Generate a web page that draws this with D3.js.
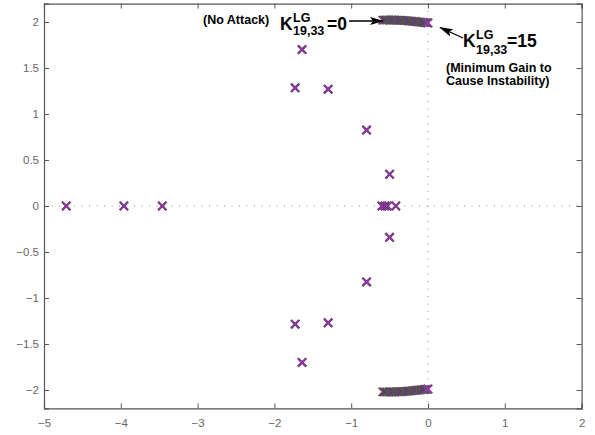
<!DOCTYPE html>
<html><head><meta charset="utf-8">
<script src="https://cdn.jsdelivr.net/npm/d3@7"></script>
<style>
html,body{margin:0;padding:0;background:#fff;}
svg{display:block;font-family:"Liberation Sans",Arial,Helvetica,sans-serif;}
</style></head>
<body><svg id="c" width="595" height="435"></svg>
<script>
// ---- data ----
const xTicks = [-5,-4,-3,-2,-1,0,1,2];
const yTicks = [-2,-1.5,-1,-0.5,0,0.5,1,1.5,2];
// open-loop poles (no attack)
const poleRe = [-4.71,-3.96,-3.46,-1.73,-1.73,-1.30,-1.30,-1.64,-1.64,-0.80,-0.80,-0.50,-0.50,-0.60,-0.56,-0.53,-0.42];
const poleIm = [0,0,0,1.285,-1.285,1.27,-1.27,1.70,-1.70,0.825,-0.825,0.345,-0.34,0,0,0,0];
// root-locus trajectory of the dominant pair (K = 0 ... 15, fine steps)
const trajRe = [-0.59,-0.57,-0.55,-0.53,-0.51,-0.49,-0.47,-0.45,-0.43,-0.41,-0.39,-0.37,-0.35,-0.33,-0.31,-0.29,-0.27,-0.25,-0.23,-0.21,-0.19,-0.17,-0.15,-0.13,-0.11,-0.09,-0.07,-0.05,-0.03,-0.015,0.0];
const trajIm = [2.02,2.021,2.021,2.022,2.022,2.022,2.022,2.021,2.021,2.02,2.02,2.019,2.018,2.017,2.016,2.015,2.013,2.012,2.01,2.009,2.007,2.005,2.003,2.001,2.0,1.998,1.996,1.994,1.992,1.991,1.99];
const trajColors = ["#5a5050","#7a3e4e","#3e4580","#6a4a6a","#4a5a4a"];

const svg = d3.select("#c");
const L = 44, R = 581.6, T = 3.6, B = 408.4;
const x = d3.scaleLinear().domain([-5,2]).range([L,R]);
const y = d3.scaleLinear().domain([-2.2,2.2]).range([B,T]);
const axisCol = "#555", labCol = "#666";

// dotted zero lines
svg.append("line").attr("x1",L).attr("x2",R).attr("y1",y(0)).attr("y2",y(0))
  .attr("stroke","#8a8a8a").attr("stroke-width",1).attr("stroke-dasharray","1,6.5");
svg.append("line").attr("x1",x(0)).attr("x2",x(0)).attr("y1",T).attr("y2",B)
  .attr("stroke","#8a8a8a").attr("stroke-width",1).attr("stroke-dasharray","1,6.5");

// axes (inward ticks on all sides)
const gB = svg.append("g").attr("transform",`translate(0,${B})`)
  .call(d3.axisBottom(x).tickValues(xTicks).tickSize(-5).tickPadding(10).tickFormat(d=>d3.format("")(d).replace("-","\u2212")));
const gT = svg.append("g").attr("transform",`translate(0,${T})`)
  .call(d3.axisTop(x).tickValues(xTicks).tickSize(-5).tickFormat(""));
const gL = svg.append("g").attr("transform",`translate(${L},0)`)
  .call(d3.axisLeft(y).tickValues(yTicks).tickSize(-5).tickPadding(5).tickFormat(d=>String(d).replace("-","\u2212")));
const gR = svg.append("g").attr("transform",`translate(${R},0)`)
  .call(d3.axisRight(y).tickValues(yTicks).tickSize(-5).tickFormat(""));
[gB,gT,gL,gR].forEach(g=>{
  g.select(".domain").attr("stroke",axisCol).attr("stroke-width",1.2);
  g.selectAll(".tick line").attr("stroke",axisCol).attr("stroke-width",1);
  g.selectAll(".tick text").attr("fill",labCol).style("font-size","11.5px").style("font-family","'Liberation Sans',Arial,sans-serif");
});

function cross(g, cx, cy, h, col, w){
  g.append("path").attr("d",`M${cx-h},${cy-h}L${cx+h},${cy+h}M${cx-h},${cy+h}L${cx+h},${cy-h}`)
   .attr("stroke",col).attr("stroke-width",w).attr("fill","none");
}

// trajectories (upper and mirrored lower)
const gt = svg.append("g");
[1,-1].forEach(s=>{
  trajRe.forEach((re,i)=>{
    cross(gt, x(re), y(s*trajIm[i]), 4.2, trajColors[i%trajColors.length], 1.5);
  });
  const last = trajRe.length-1;
  cross(gt, x(trajRe[last]), y(s*trajIm[last]), 4.2, "#a030b8", 1.6);
});

// poles
const gp = svg.append("g");
poleRe.forEach((re,i)=>{
  cross(gp, x(re), y(poleIm[i]), 4.2, "#4a3a4a", 2.3);
  cross(gp, x(re), y(poleIm[i]), 3.9, "#a030b8", 1.3);
});

// arrows
svg.append("defs").append("marker").attr("id","ah").attr("viewBox","0 0 14 8")
  .attr("refX",13).attr("refY",4).attr("markerWidth",14).attr("markerHeight",8)
  .attr("markerUnits","userSpaceOnUse").attr("orient","auto")
  .append("path").attr("d","M0,0L14,4L0,8L3,4Z").attr("fill","#000");
svg.append("line").attr("x1",349).attr("y1",21).attr("x2",383).attr("y2",21)
  .attr("stroke","#000").attr("stroke-width",1.3).attr("marker-end","url(#ah)");
svg.append("line").attr("x1",463).attr("y1",38).attr("x2",440).attr("y2",27.5)
  .attr("stroke","#000").attr("stroke-width",1.3).attr("marker-end","url(#ah)");

// annotations
const bold = (t,xx,yy,fs)=>svg.append("text").attr("x",xx).attr("y",yy).text(t)
  .attr("font-weight","bold").attr("font-size",fs).attr("fill","#000");
bold("(No Attack)",203,24.3,"12.5px");
bold("K",280,30,"17.5px");
bold("LG",293,22,"12.5px");
bold("19,33",293,34.5,"12.5px");
bold("=0",327,30,"17.5px");

bold("K",463,47.2,"17.5px");
bold("LG",476,38.6,"12.5px");
bold("19,33",476,53.8,"12.5px");
bold("=15",507,47.2,"17.5px");
bold("(Minimum Gain to",446,72,"12.5px");
bold("Cause Instability)",446,85,"12.5px");
</script></body></html>
